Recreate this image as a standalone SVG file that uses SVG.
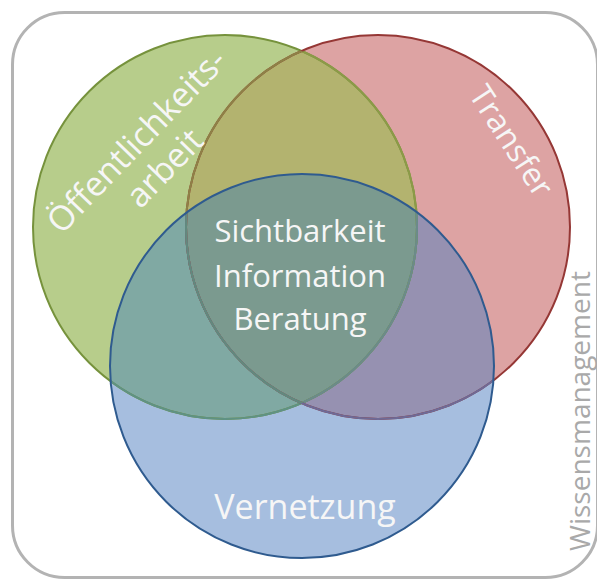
<svg xmlns="http://www.w3.org/2000/svg" width="597" height="579" viewBox="0 0 597 579">
<style>
.lbl{font-family:"Open Sans","Noto Sans","DejaVu Sans",sans-serif;fill:#f6f6f6}
.side{font-family:"Open Sans","Noto Sans","DejaVu Sans",sans-serif;fill:#a9a9a9}
.st{fill:none;stroke-width:2}
</style>
<defs>
<clipPath id="cG"><circle cx="225" cy="227" r="192"/></clipPath>
<clipPath id="cR"><circle cx="378" cy="227" r="192"/></clipPath>
<clipPath id="cB"><circle cx="302" cy="366" r="192"/></clipPath>
<circle id="pG" cx="225" cy="227" r="192"/>
<circle id="pR" cx="378" cy="227" r="192"/>
<circle id="pB" cx="302" cy="366" r="192"/>
</defs>
<rect id="frame" x="12.5" y="12.5" width="585" height="565" rx="52" fill="#ffffff" stroke="#b3b3b3" stroke-width="3"/>
<g id="fills">
<use href="#pG" fill="#b7cd8b"/>
<use href="#pR" fill="#dda3a3"/>
<g clip-path="url(#cG)"><use href="#pR" fill="#b3b36f"/></g>
<use href="#pB" fill="#a6bedf"/>
<g clip-path="url(#cG)"><use href="#pB" fill="#80a9a3"/></g>
<g clip-path="url(#cR)"><use href="#pB" fill="#9691b1"/></g>
<g clip-path="url(#cG)"><g clip-path="url(#cR)"><use href="#pB" fill="#7b9a8f"/></g></g>
</g>
<g id="circle-green">
<use href="#pG" class="st" stroke="#76923c"/>
<g clip-path="url(#cR)"><use href="#pG" class="st" stroke="#8c9a48"/></g>
<g clip-path="url(#cB)"><use href="#pG" class="st" stroke="#5f9284"/></g>
<g clip-path="url(#cB)"><g clip-path="url(#cR)"><use href="#pG" class="st" stroke="#6c8a8a"/></g></g>
</g>
<g id="circle-red">
<use href="#pR" class="st" stroke="#953735"/>
<g clip-path="url(#cG)"><use href="#pR" class="st" stroke="#8d8246"/></g>
<g clip-path="url(#cB)"><use href="#pR" class="st" stroke="#6e6a96"/></g>
<g clip-path="url(#cB)"><g clip-path="url(#cG)"><use href="#pR" class="st" stroke="#628a7e"/></g></g>
</g>
<g id="circle-blue"><use href="#pB" class="st" stroke="#2f5b8f"/></g>
<g id="label-oeffentlichkeit" transform="translate(145,149) rotate(-46)">
<text class="lbl" font-size="34" text-anchor="middle"><tspan x="0" y="0">Öffentlichkeits-</tspan><tspan x="0" y="39">arbeit</tspan></text>
</g>
<g id="label-transfer" transform="translate(502,147) rotate(57)">
<text class="lbl" font-size="32" text-anchor="middle" x="0" y="0">Transfer</text>
</g>
<g id="label-center">
<text class="lbl" font-size="31" text-anchor="middle"><tspan x="300" y="242">Sichtbarkeit</tspan><tspan x="300" y="287">Information</tspan><tspan x="300" y="330">Beratung</tspan></text>
</g>
<g id="label-vernetzung">
<text class="lbl" font-size="34" text-anchor="middle" x="305" y="519">Vernetzung</text>
</g>
<g id="label-wissen" transform="translate(590,411) rotate(-90)">
<text class="side" font-size="28" text-anchor="middle" x="0" y="0">Wissensmanagement</text>
</g>
</svg>
